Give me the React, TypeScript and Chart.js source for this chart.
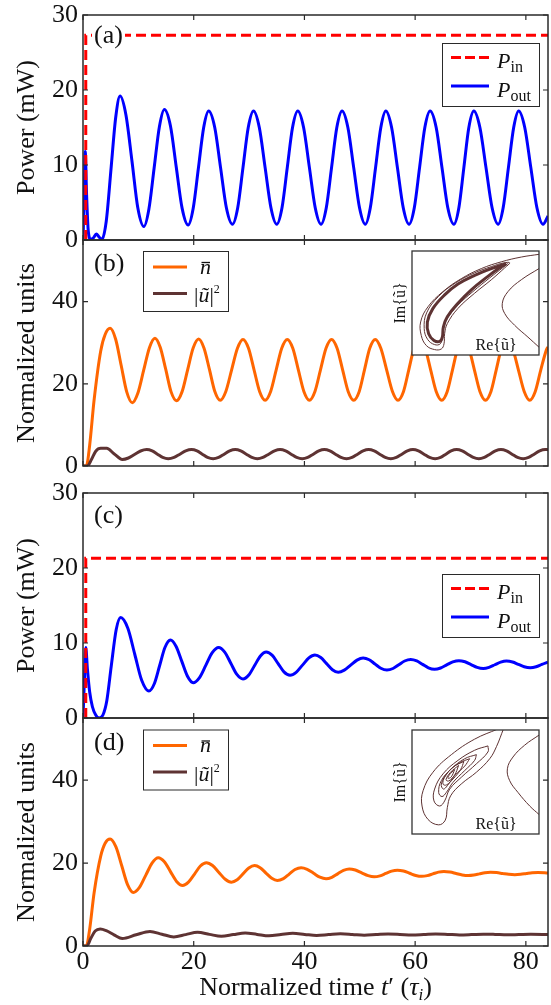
import React, { useEffect, useRef } from 'react';
import { Chart, registerables } from 'chart.js';

Chart.register(...registerables);

// ---------------- data ----------------
const X_TICKS = [0, 20, 40, 60, 80];
const POWER_TICKS = [0, 10, 20, 30];
const UNITS_TICKS = [0, 20, 40];

// (a) P_in step and P_out  [t, mW]
const A_PIN: number[][] = [[0.5, 0], [0.5, 27.3], [84, 27.3]];
const A_POUT: number[][] = [
  [0, 0], [0.2, 5], [0.4, 11.8], [0.65, 6], [0.95, 1.2], [1.4, 0.1], [1.9, 0.3], [2.4, 0.8], [2.9, 0.4],
  [3.4, 0.05], [4.2, 2.5], [5.1, 9.8], [5.9, 16.3], [6.7, 19.2],
  [7.75, 16.7], [8.85, 10.5], [9.9, 4.3], [11.0, 1.8],
  [11.9, 4.1], [12.85, 9.6], [13.8, 15.1], [14.7, 17.4],
  [15.8, 15.2], [16.85, 9.7], [17.9, 4.25], [19.0, 2.0],
  [19.9, 4.2], [20.85, 9.6], [21.8, 15.0], [22.7, 17.2],
  [23.8, 15.0], [24.85, 9.65], [25.9, 4.3], [27.0, 2.1],
  [27.95, 4.3], [28.9, 9.65], [29.85, 15.0], [30.8, 17.2],
  [31.85, 15.0], [32.9, 9.65], [33.95, 4.3], [35.0, 2.1],
  [35.95, 4.3], [36.9, 9.65], [37.85, 15.0], [38.8, 17.2],
  [39.85, 15.0], [40.9, 9.65], [41.95, 4.3], [43.0, 2.1],
  [43.95, 4.3], [44.9, 9.65], [45.85, 15.0], [46.8, 17.2],
  [47.85, 15.0], [48.9, 9.65], [49.95, 4.3], [51.0, 2.1],
  [51.9, 4.3], [52.85, 9.65], [53.8, 15.0], [54.7, 17.2],
  [55.75, 15.0], [56.8, 9.65], [57.85, 4.3], [58.9, 2.1],
  [59.85, 4.3], [60.8, 9.65], [61.75, 15.0], [62.7, 17.2],
  [63.8, 15.0], [64.85, 9.65], [65.9, 4.3], [67.0, 2.1],
  [67.9, 4.3], [68.8, 9.65], [69.7, 15.0], [70.6, 17.2],
  [71.7, 15.0], [72.8, 9.65], [73.9, 4.3], [75.0, 2.1],
  [75.9, 4.3], [76.85, 9.65], [77.8, 15.0], [78.7, 17.2],
  [79.8, 15.0], [80.9, 9.65], [82.0, 4.3], [83.1, 2.1], [84, 3.2],
];
// (b) carrier density n-bar and |u|^2
const B_N: number[][] = [
  [0, 0], [0.6, 0], [1.2, 5], [2.0, 16], [3.2, 28], [4.0, 32], [4.9, 33.5],
  [5.9, 30.85], [6.9, 24.45], [7.9, 18.05], [8.9, 15.4],
  [9.9, 17.7], [10.95, 23.25], [12.0, 28.8], [13.0, 31.1],
  [13.95, 28.9], [14.95, 23.5], [15.9, 18.1], [16.9, 15.9],
  [17.9, 18.1], [18.9, 23.4], [19.9, 28.7], [20.9, 30.9],
  [21.85, 28.7], [22.85, 23.45], [23.8, 18.2], [24.8, 16.0],
  [25.8, 18.15], [26.85, 23.4], [27.9, 28.65], [28.9, 30.8],
  [29.9, 28.65], [30.9, 23.4], [31.9, 18.15], [32.9, 16.0],
  [33.9, 18.15], [34.9, 23.4], [35.9, 28.65], [36.9, 30.8],
  [37.9, 28.65], [38.9, 23.4], [39.9, 18.15], [40.9, 16.0],
  [41.9, 18.15], [42.9, 23.4], [43.9, 28.65], [44.9, 30.8],
  [45.9, 28.65], [46.9, 23.4], [47.9, 18.15], [48.9, 16.0],
  [49.9, 18.15], [50.85, 23.4], [51.8, 28.65], [52.8, 30.8],
  [53.8, 28.65], [54.85, 23.4], [55.9, 18.15], [56.9, 16.0],
  [57.9, 18.15], [58.85, 23.4], [59.8, 28.65], [60.8, 30.8],
  [61.8, 28.65], [62.8, 23.4], [63.8, 18.15], [64.8, 16.0],
  [65.8, 18.15], [66.75, 23.4], [67.7, 28.65], [68.7, 30.8],
  [69.7, 28.65], [70.7, 23.4], [71.7, 18.15], [72.7, 16.0],
  [73.7, 18.15], [74.65, 23.4], [75.6, 28.65], [76.6, 30.8],
  [77.6, 28.65], [78.65, 23.4], [79.7, 18.15], [80.7, 16.0],
  [81.7, 18.15], [82.7, 23.4], [83.7, 28.2], [84, 29.0],
];
const B_U: number[][] = [
  [0, 0], [0.8, 0], [1.5, 1.5], [2.3, 3.6], [3.2, 4.3], [4.3, 4.3], [5.6, 3.0], [7.1, 1.6],
  [8.2, 1.95], [9.3, 2.8], [10.4, 3.65], [11.5, 4.0],
  [12.5, 3.67], [13.45, 2.875], [14.4, 2.08], [15.4, 1.75],
  [16.45, 2.08], [17.5, 2.875], [18.55, 3.67], [19.6, 4.0],
  [20.6, 3.67], [21.55, 2.875], [22.5, 2.08], [23.5, 1.75],
  [24.5, 2.08], [25.5, 2.875], [26.5, 3.67], [27.5, 4.0],
  [28.5, 3.67], [29.5, 2.875], [30.5, 2.08], [31.5, 1.75],
  [32.5, 2.08], [33.55, 2.875], [34.6, 3.67], [35.6, 4.0],
  [36.6, 3.67], [37.6, 2.875], [38.6, 2.08], [39.6, 1.75],
  [40.6, 2.08], [41.6, 2.875], [42.6, 3.67], [43.6, 4.0],
  [44.6, 3.67], [45.6, 2.875], [46.6, 2.08], [47.6, 1.75],
  [48.6, 2.08], [49.6, 2.875], [50.6, 3.67], [51.6, 4.0],
  [52.6, 3.67], [53.6, 2.875], [54.6, 2.08], [55.6, 1.75],
  [56.6, 2.08], [57.6, 2.875], [58.6, 3.67], [59.6, 4.0],
  [60.6, 3.67], [61.6, 2.875], [62.6, 2.08], [63.6, 1.75],
  [64.6, 2.08], [65.55, 2.875], [66.5, 3.67], [67.5, 4.0],
  [68.5, 3.67], [69.5, 2.875], [70.5, 2.08], [71.5, 1.75],
  [72.5, 2.08], [73.5, 2.875], [74.5, 3.67], [75.5, 4.0],
  [76.5, 3.67], [77.5, 2.875], [78.5, 2.08], [79.5, 1.75],
  [80.5, 2.08], [81.5, 2.875], [82.5, 3.67], [83.5, 4.0], [84, 3.98],
];
// (c) P_in step and P_out
const C_PIN: number[][] = [[0.5, 0], [0.5, 21.3], [84, 21.3]];
const C_POUT: number[][] = [
  [0, 0], [0.25, 5], [0.5, 9.4], [0.8, 6.5], [1.2, 3.5], [1.7, 1.5], [2.3, 0.4], [2.9, 0.0], [3.6, 0.4],
  [4.3, 2.3], [5.1, 6.9], [6.0, 11.8], [6.8, 13.4],
  [8.1, 11.97], [9.35, 8.5], [10.6, 5.03], [11.9, 3.6],
  [12.9, 4.6], [13.85, 7.0], [14.8, 9.4], [15.8, 10.4],
  [16.8, 9.57], [17.85, 7.55], [18.9, 5.53], [19.9, 4.7],
  [21.05, 5.39], [22.2, 7.05], [23.35, 8.71], [24.5, 9.4],
  [25.6, 8.79], [26.7, 7.3], [27.8, 5.81], [28.9, 5.2],
  [29.95, 5.73], [31.0, 7.0], [32.05, 8.27], [33.1, 8.8],
  [34.2, 8.35], [35.25, 7.25], [36.3, 6.15], [37.4, 5.7],
  [38.5, 6.09], [39.65, 7.05], [40.8, 8.01], [41.9, 8.4],
  [42.95, 8.06], [44.0, 7.25], [45.05, 6.44], [46.1, 6.1],
  [47.2, 6.38], [48.35, 7.05], [49.5, 7.72], [50.6, 8.0],
  [51.7, 7.77], [52.75, 7.2], [53.8, 6.63], [54.9, 6.4],
  [56.0, 6.6], [57.05, 7.1], [58.1, 7.6], [59.2, 7.8],
  [60.3, 7.61], [61.35, 7.15], [62.4, 6.69], [63.5, 6.5],
  [64.6, 6.67], [65.7, 7.08], [66.8, 7.48], [67.9, 7.65],
  [69.0, 7.5], [70.1, 7.13], [71.2, 6.75], [72.3, 6.6],
  [73.35, 6.75], [74.4, 7.1], [75.45, 7.45], [76.5, 7.6],
  [77.6, 7.47], [78.65, 7.15], [79.7, 6.83], [80.8, 6.7],
  [81.85, 6.83], [82.9, 7.15], [84, 7.45],
];
// (d) n-bar and |u|^2
const D_N: number[][] = [
  [0, 0], [0.6, 0], [1.2, 4], [2.0, 12.8], [3.2, 21.7], [4.0, 24.8], [4.9, 25.8],
  [5.95, 23.9], [7.0, 19.35], [8.05, 14.8], [9.1, 12.9],
  [10.2, 14.13], [11.35, 17.1], [12.5, 20.07], [13.6, 21.3],
  [14.7, 20.32], [15.8, 17.95], [16.9, 15.58], [18.0, 14.6],
  [19.05, 15.4], [20.15, 17.35], [21.2, 19.3], [22.3, 20.1],
  [23.4, 19.41], [24.55, 17.75], [25.7, 16.09], [26.8, 15.4],
  [27.85, 15.98], [28.9, 17.4], [29.95, 18.82], [31.0, 19.4],
  [32.0, 18.87], [33.05, 17.6], [34.1, 16.33], [35.1, 15.8],
  [36.2, 16.25], [37.25, 17.35], [38.3, 18.45], [39.4, 18.9],
  [40.5, 18.51], [41.65, 17.55], [42.8, 16.59], [43.9, 16.2],
  [44.95, 16.55], [46.0, 17.4], [47.05, 18.25], [48.1, 18.6],
  [49.2, 18.32], [50.35, 17.65], [51.5, 16.98], [52.6, 16.7],
  [53.65, 16.93], [54.7, 17.5], [55.75, 18.07], [56.8, 18.3],
  [57.9, 18.08], [59.0, 17.55], [60.1, 17.02], [61.2, 16.8],
  [62.2, 16.98], [63.2, 17.4], [64.2, 17.82], [65.2, 18.0],
  [66.3, 17.85], [67.4, 17.5], [68.5, 17.15], [69.6, 17.0],
  [70.6, 17.12], [71.6, 17.4], [72.6, 17.68], [73.6, 17.8],
  [74.7, 17.71], [75.8, 17.5], [76.9, 17.29], [78.0, 17.2],
  [79.05, 17.28], [80.1, 17.48], [81.15, 17.67], [82.2, 17.75], [84, 17.6],
];
const D_U: number[][] = [
  [0, 0], [0.7, 0], [1.4, 1.8], [2.2, 3.6], [3.1, 4.1], [4.2, 3.7], [5.6, 2.7], [7.1, 1.8], [9.6, 2.7],
  [12.1, 3.5], [14.25, 2.85], [16.4, 2.2], [18.55, 2.75], [20.7, 3.3], [22.85, 2.8], [25.0, 2.35],
  [27.15, 2.75], [29.3, 3.15], [31.45, 2.8], [33.6, 2.45], [35.75, 2.75], [37.9, 3.05], [40.05, 2.8],
  [42.2, 2.55], [44.35, 2.75], [46.5, 2.95], [48.65, 2.8], [50.8, 2.6], [52.95, 2.75], [55.1, 2.9],
  [57.25, 2.8], [59.4, 2.65], [61.55, 2.75], [63.7, 2.88], [65.85, 2.8], [68.0, 2.68], [70.15, 2.75],
  [72.3, 2.86], [74.45, 2.8], [76.6, 2.7], [78.75, 2.77], [80.9, 2.84], [83.05, 2.8], [84, 2.76],
];

// insets: phase portraits, normalized Re{u} / Im{u} (0..100)
const INSET_B_SPIRAL: number[][] = [
  [100, 96.8], [86.1, 94.2], [70.3, 89.6], [54.6, 83.1], [38.8, 73.4], [24.4, 61.0], [12.6, 46.4],
  [6.8, 31.8], [7.3, 18.8], [11.3, 9.1], [17.8, 5.2], [23.1, 5.8], [25.2, 10.7], [25.7, 20.5], [27.8, 30.2],
  [36.2, 44.8], [49.3, 59.4], [62.5, 72.4], [73.0, 83.8], [76.9, 88.6], [72.0, 88.5], [62.5, 85.0],
  [49.3, 79.0], [34.5, 69.5], [21.0, 56.5], [11.5, 40.5], [9.6, 25.5], [12.3, 15.0], [17.8, 10.0],
  [22.3, 10.8], [24.0, 17.5], [25.0, 27.0], [28.0, 35.5], [36.2, 48.0], [48.0, 61.0], [61.0, 74.0],
  [71.5, 84.0], [75.5, 88.0],
];
const INSET_B_CYCLE: number[][] = [
  [74.3, 87.7], [62.5, 83.1], [49.3, 76.6], [36.2, 68.2], [25.7, 57.8], [16.5, 44.8], [12.1, 31.8],
  [13.1, 20.5], [17.3, 14.0], [21.8, 13.0], [23.9, 17.2], [24.7, 26.9], [27.8, 36.7], [36.2, 49.7],
  [46.7, 62.7], [59.8, 75.6], [69.0, 83.8], [74.3, 87.7],
];
const INSET_B_RIGHT: number[][] = [
  [100, 83.1], [86.1, 72.4], [75.6, 61.0], [71.1, 49.7], [73.0, 39.9], [80.8, 28.6], [91.3, 17.2], [100, 7.5],
];
const INSET_D_C1: number[][] = [
  [67.7, 101], [49.3, 91.2], [31.0, 76.3], [16.5, 59.4], [8.7, 41.6], [7.9, 26.9], [12.6, 14.0], [21.0, 8.8],
  [26.2, 13.3], [27.8, 25.3], [30.4, 36.7], [38.8, 48.1], [50.7, 59.4], [61.2, 72.4], [66.5, 84], [72, 101],
];
const INSET_D_C2: number[][] = [
  [59.8, 84.7], [49.3, 80.5], [36.2, 70.8], [24.4, 57.8], [17.8, 43.2], [17.3, 31.8], [21.8, 26.9],
  [25.7, 31.8], [29.7, 43.2], [38.8, 54.5], [50.7, 67.5], [59.8, 78.9], [59.8, 84.7],
];
const INSET_D_C3: number[][] = [
  [50.7, 76.3], [41.5, 72.4], [31.0, 62.7], [23.1, 51.3], [21.0, 39.9], [23.6, 36.0], [27.0, 39.9],
  [32.3, 49.7], [41.5, 61.0], [49.3, 70.8], [50.7, 76.3],
];
const INSET_D_C4: number[][] = [
  [45.4, 72.4], [37.5, 68.5], [28.3, 59.4], [23.1, 48.1], [24.7, 43.2], [27.8, 46.4], [33.6, 56.2],
  [41.5, 65.3], [45.4, 72.4],
];
const INSET_D_C5: number[][] = [
  [40.9, 69.8], [32.3, 64.3], [25.7, 54.5], [24.4, 48.1], [27.0, 47.1], [32.3, 52.9], [38.3, 62.0], [40.9, 69.8],
];
const INSET_D_C6: number[][] = [
  [36.7, 65.9], [30.4, 59.4], [26.8, 52.3], [28.9, 51.0], [33.6, 56.8], [36.7, 65.9],
];
const INSET_D_C7: number[][] = [
  [33.6, 62.0], [29.4, 56.8], [28.3, 53.6], [30.9, 54.9], [33.6, 62.0],
];
const INSET_D_RIGHT: number[][] = [
  [100, 95.1], [88.7, 85.4], [79.5, 74.0], [75.1, 62.7], [76.9, 51.3], [83.5, 39.9], [92.7, 26.9], [100, 18.8],
];

// ---------------- styles ----------------
const FONT = "'Liberation Serif', 'Times New Roman', serif";
const TEXT = '#111111';
const FRAME = '#2a2a2a';
const RED = '#ff0000';
const BLUE = '#0000ff';
const ORANGE = '#ff6600';
const BROWN = '#5e3333';

Chart.defaults.font.family = FONT;

const pts = (a: number[][]) => a.map(([x, y]) => ({ x, y }));

type Run = { t: string; it?: boolean; s: number; dy?: number };
function drawRuns(ctx: CanvasRenderingContext2D, runs: Run[], x: number, y: number, align: 'left' | 'center' = 'left') {
  const f = (r: Run) => `${r.it ? 'italic ' : ''}${r.s}px ${FONT}`;
  let w = 0;
  for (const r of runs) { ctx.font = f(r); w += ctx.measureText(r.t).width; }
  let cx = align === 'center' ? x - w / 2 : x;
  ctx.textAlign = 'left';
  ctx.textBaseline = 'alphabetic';
  ctx.fillStyle = TEXT;
  for (const r of runs) {
    ctx.font = f(r);
    ctx.fillText(r.t, cx, y + (r.dy || 0));
    cx += ctx.measureText(r.t).width;
  }
}

function seg(ctx: CanvasRenderingContext2D, x1: number, x2: number, y: number, color: string, dash: number[], w = 3) {
  ctx.save();
  ctx.strokeStyle = color; ctx.lineWidth = w; ctx.setLineDash(dash); ctx.lineCap = 'butt';
  ctx.beginPath(); ctx.moveTo(x1, y); ctx.lineTo(x2, y); ctx.stroke();
  ctx.restore();
}

function legendPower(ctx: CanvasRenderingContext2D, left: number, top: number) {
  ctx.fillStyle = '#fff'; ctx.fillRect(left, top, 97, 63);
  ctx.strokeStyle = FRAME; ctx.lineWidth = 1; ctx.setLineDash([]);
  ctx.strokeRect(left + 0.5, top + 0.5, 97, 63);
  seg(ctx, left + 9, left + 47, top + 14.5, RED, [10, 4]);
  drawRuns(ctx, [{ t: 'P', it: true, s: 22 }, { t: 'in', s: 16, dy: 4 }], left + 55, top + 24.5);
  seg(ctx, left + 9, left + 47, top + 43, BLUE, []);
  drawRuns(ctx, [{ t: 'P', it: true, s: 22 }, { t: 'out', s: 16, dy: 4 }], left + 55, top + 54);
}

function legendUnits(ctx: CanvasRenderingContext2D, left: number, top: number) {
  ctx.fillStyle = '#fff'; ctx.fillRect(left, top, 85, 60);
  ctx.strokeStyle = FRAME; ctx.lineWidth = 1; ctx.setLineDash([]);
  ctx.strokeRect(left + 0.5, top + 0.5, 85, 60);
  seg(ctx, left + 10, left + 44, top + 16, ORANGE, []);
  drawRuns(ctx, [{ t: 'n', it: true, s: 22 }], left + 57, top + 22.5);
  ctx.save();
  ctx.strokeStyle = TEXT; ctx.lineWidth = 1.3;
  ctx.beginPath(); ctx.moveTo(left + 58.5, top + 11.5); ctx.lineTo(left + 67, top + 11.5); ctx.stroke();
  ctx.restore();
  seg(ctx, left + 10, left + 44, top + 42.5, BROWN, []);
  drawRuns(ctx, [{ t: '|', s: 22 }, { t: 'ũ', it: true, s: 22 }, { t: '|', s: 22 }, { t: '2', s: 12, dy: -9 }], left + 51, top + 51);
}

const PANELS = [
  { id: 'ya', label: '(a)', base: 42.5, bg: true, legend: 'p', lx: 442, ly: 43 },
  { id: 'yb', label: '(b)', base: 271, bg: false, legend: 'u', lx: 143, ly: 251 },
  { id: 'yc', label: '(c)', base: 522.5, bg: false, legend: 'p', lx: 442, ly: 574 },
  { id: 'yd', label: '(d)', base: 749.5, bg: false, legend: 'u', lx: 143, ly: 729.5 },
];
const PANEL_TICKS: Record<string, number[]> = { ya: POWER_TICKS, yb: UNITS_TICKS, yc: POWER_TICKS, yd: UNITS_TICKS };

const decorPlugin = {
  id: 'decor',
  afterDraw(chart: any) {
    const ctx: CanvasRenderingContext2D = chart.ctx;
    const ca = chart.chartArea;
    const xs = chart.scales.x;
    ctx.save();
    for (const p of PANELS) {
      const ys = chart.scales[p.id];
      const top = ys.top, bottom = ys.bottom;
      if (p.bg) { ctx.fillStyle = '#fff'; ctx.fillRect(92, top + 6, 33, 30); }
      drawRuns(ctx, [{ t: p.label, s: 26 }], 94, p.base);
      if (p.legend === 'p') legendPower(ctx, p.lx, p.ly); else legendUnits(ctx, p.lx, p.ly);
      ctx.strokeStyle = FRAME; ctx.lineWidth = 1.5; ctx.setLineDash([]);
      ctx.strokeRect(ca.left, top, ca.right - ca.left, bottom - top);
      ctx.lineWidth = 1.2;
      ctx.beginPath();
      for (const v of PANEL_TICKS[p.id]) {
        const y = ys.getPixelForValue(v);
        ctx.moveTo(ca.left, y); ctx.lineTo(ca.left + 5, y);
        ctx.moveTo(ca.right - 5, y); ctx.lineTo(ca.right, y);
      }
      for (const v of X_TICKS) {
        const x = xs.getPixelForValue(v);
        ctx.moveTo(x, top); ctx.lineTo(x, top + 5);
        ctx.moveTo(x, bottom - 5); ctx.lineTo(x, bottom);
      }
      ctx.stroke();
    }
    drawRuns(ctx, [
      { t: 'Normalized time ', s: 26 }, { t: 't', it: true, s: 26 }, { t: '′ (', s: 26 },
      { t: 'τ', it: true, s: 26 }, { t: 'i', it: true, s: 17, dy: 5 }, { t: ')', s: 26 },
    ], (ca.left + ca.right) / 2, 995, 'center');
    ctx.restore();
  },
};

function yAxis(min: number, max: number, ticks: number[], title: string, weight: number, stackWeight: number, show = true) {
  return {
    type: 'linear', position: 'left', stack: 'panels', stackWeight, weight, min, max,
    afterBuildTicks: (s: any) => { s.ticks = ticks.map((v) => ({ value: v })); },
    afterFit: (s: any) => { s.width = 83; s.paddingTop = 0; s.paddingBottom = 0; },
    grid: { display: false, drawTicks: false },
    border: { display: false },
    ticks: { display: show, font: { size: 26, family: FONT }, color: TEXT, padding: 5, autoSkip: false },
    title: { display: show && !!title, text: title, font: { size: 26, family: FONT }, color: TEXT, padding: { top: 12, bottom: 0 } },
  };
}

function line(data: number[][], yAxisID: string, color: string, dashed = false) {
  return {
    data: pts(data), xAxisID: 'x', yAxisID, borderColor: color, borderWidth: 3,
    borderDash: dashed ? [10, 5] : [], pointRadius: 0, fill: false,
    tension: 0, cubicInterpolationMode: dashed ? 'default' : 'monotone',
  };
}

function mainConfig(): any {
  return {
    type: 'line',
    data: {
      datasets: [
        line(A_PIN, 'ya', RED, true),
        line(A_POUT, 'ya', BLUE),
        line(B_U, 'yb', BROWN),
        line(B_N, 'yb', ORANGE),
        line(C_PIN, 'yc', RED, true),
        line(C_POUT, 'yc', BLUE),
        line(D_U, 'yd', BROWN),
        line(D_N, 'yd', ORANGE),
      ],
    },
    options: {
      animation: false, responsive: false, maintainAspectRatio: false,
      layout: { padding: { top: 15, right: 3, left: 0, bottom: 0 } },
      plugins: { legend: { display: false }, tooltip: { enabled: false } },
      scales: {
        x: {
          type: 'linear', position: 'bottom', min: 0, max: 84,
          afterBuildTicks: (s: any) => { s.ticks = X_TICKS.map((v) => ({ value: v })); },
          afterFit: (s: any) => { s.height = 59; s.paddingLeft = 0; s.paddingRight = 0; },
          grid: { display: false, drawTicks: false }, border: { display: false },
          ticks: { font: { size: 26, family: FONT }, color: TEXT, padding: 1, maxRotation: 0, autoSkip: false },
        },
        ya: yAxis(0, 30, POWER_TICKS, 'Power (mW)', 5, 225),
        yb: yAxis(0, 55, UNITS_TICKS, 'Normalized units', 4, 226),
        ygap: yAxis(0, 1, [], '', 3, 27, false),
        yc: yAxis(0, 30, POWER_TICKS, 'Power (mW)', 2, 225),
        yd: yAxis(0, 55, UNITS_TICKS, 'Normalized units', 1, 228),
      },
    },
    plugins: [decorPlugin],
  };
}

const insetPlugin = {
  id: 'insetBox',
  beforeDatasetsDraw(chart: any) {
    const { ctx, chartArea: ca } = chart;
    ctx.save(); ctx.fillStyle = '#fff';
    ctx.fillRect(ca.left, ca.top, ca.right - ca.left, ca.bottom - ca.top);
    ctx.restore();
  },
  afterDatasetsDraw(chart: any) {
    const { ctx, chartArea: ca } = chart;
    ctx.save();
    drawRuns(ctx, [{ t: 'Re{ũ}', s: 16 }], ca.left + 63.5, ca.bottom - 5);
    ctx.strokeStyle = '#333'; ctx.lineWidth = 1.3;
    ctx.strokeRect(ca.left, ca.top, ca.right - ca.left, ca.bottom - ca.top);
    ctx.restore();
  },
};

function curve(data: number[][], w = 1) {
  return { data: pts(data), borderColor: BROWN, borderWidth: w, pointRadius: 0, tension: 0.4, fill: false };
}

function insetConfig(sets: any[]): any {
  return {
    type: 'line',
    data: { datasets: sets },
    options: {
      animation: false, responsive: false, maintainAspectRatio: false,
      layout: { padding: { top: 2, bottom: 2, right: 3, left: 0 } },
      plugins: { legend: { display: false }, tooltip: { enabled: false } },
      scales: {
        x: { type: 'linear', min: 0, max: 100, display: false },
        y: {
          type: 'linear', min: 0, max: 100,
          afterFit: (s: any) => { s.width = 22; s.paddingTop = 0; s.paddingBottom = 0; },
          grid: { display: false, drawTicks: false }, border: { display: false },
          ticks: { display: false },
          title: { display: true, text: 'Im{ũ}', font: { size: 16, family: FONT }, color: TEXT, padding: { top: 1, bottom: 0 } },
        },
      },
    },
    plugins: [insetPlugin],
  };
}

export default function App() {
  const mainRef = useRef<HTMLCanvasElement>(null);
  const insetB = useRef<HTMLCanvasElement>(null);
  const insetD = useRef<HTMLCanvasElement>(null);

  useEffect(() => {
    const charts = [
      new Chart(mainRef.current as HTMLCanvasElement, mainConfig()),
      new Chart(insetB.current as HTMLCanvasElement, insetConfig([
        curve(INSET_B_SPIRAL, 1), curve(INSET_B_CYCLE, 3), curve(INSET_B_RIGHT, 1),
      ])),
      new Chart(insetD.current as HTMLCanvasElement, insetConfig([
        curve(INSET_D_C1), curve(INSET_D_C2), curve(INSET_D_C3), curve(INSET_D_C4),
        curve(INSET_D_C5), curve(INSET_D_C6), curve(INSET_D_C7), curve(INSET_D_RIGHT),
      ])),
    ];
    return () => charts.forEach((c) => c.destroy());
  }, []);

  return (
    <div style={{ position: 'absolute', left: 0, top: 0, width: 551, height: 1005, background: '#fff' }}>
      <canvas ref={mainRef} width={551} height={1005} style={{ position: 'absolute', left: 0, top: 0 }} />
      <canvas ref={insetB} width={152} height={108} style={{ position: 'absolute', left: 390, top: 249 }} />
      <canvas ref={insetD} width={152} height={108} style={{ position: 'absolute', left: 390, top: 728 }} />
    </div>
  );
}
